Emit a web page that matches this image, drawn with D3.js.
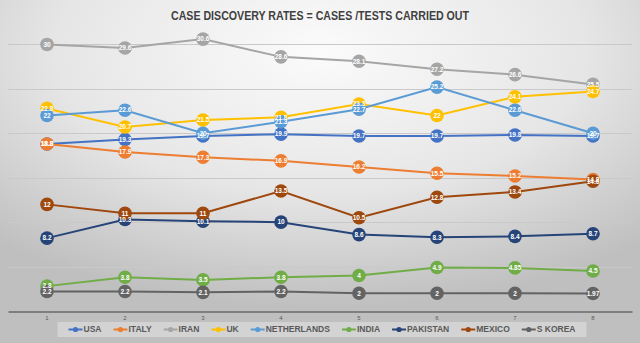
<!DOCTYPE html>
<html>
<head>
<meta charset="utf-8">
<script src="https://cdn.jsdelivr.net/npm/d3@7"></script>
<style>
  html, body { margin: 0; padding: 0; }
  body { width: 640px; height: 343px; overflow: hidden; }
  text { font-family: "Liberation Sans Narrow", "Liberation Sans", Arial, sans-serif; }
</style>
</head>
<body>
<div id="chart"></div>
<script>
const categories = ["1", "2", "3", "4", "5", "6", "7", "8"];
const seriesNames = ["USA", "ITALY", "IRAN", "UK", "NETHERLANDS", "INDIA", "PAKISTAN", "MEXICO", "S KOREA"];
const seriesColors = ["#4472C4", "#ED7D31", "#A5A5A5", "#FFC000", "#5B9BD5", "#70AD47", "#264478", "#9E480E", "#636363"];

const usa = [18.8, 19.3, 19.7, 19.9, 19.7, 19.7, 19.8, 19.7];
const italy = [18.8, 17.9, 17.3, 16.9, 16.2, 15.5, 15.2, 14.8];
const iran = [30, 29.6, 30.6, 28.6, 28.1, 27.2, 26.6, 25.5];
const uk = [22.8, 20.7, 21.5, 21.8, 23.3, 22, 24.1, 24.7];
const netherlands = [22, 22.6, 20, 21.3, 22.7, 25.2, 22.6, 20];
const india = [2.8, 3.8, 3.5, 3.8, 4, 4.9, 4.85, 4.5];
const pakistan = [8.2, 10.3, 10.1, 10, 8.6, 8.3, 8.4, 8.7];
const mexico = [12, 11, 11, 13.5, 10.5, 12.8, 13.4, 14.6];
const sKorea = [2.2, 2.2, 2.1, 2.2, 2, 2, 2, 1.97];

const yTicks = [5, 10, 15, 20, 25, 30];
const title = "CASE DISCOVERY RATES = CASES /TESTS CARRIED OUT";

const allValues = [usa, italy, iran, uk, netherlands, india, pakistan, mexico, sKorea];
const series = seriesNames.map((name, i) => ({ name, color: seriesColors[i], values: allValues[i] }));

const width = 640, height = 343;
const margin = { top: 0, right: 8, bottom: 32, left: 8 };

const svg = d3.select("#chart").append("svg")
  .attr("width", width)
  .attr("height", height);

// background gradient
const defs = svg.append("defs");
const grad = defs.append("radialGradient")
  .attr("id", "bg")
  .attr("cx", "50%").attr("cy", "15%").attr("r", "75%");
grad.append("stop").attr("offset", "0%").attr("stop-color", "#fbfbfb");
grad.append("stop").attr("offset", "55%").attr("stop-color", "#e6e6e6");
grad.append("stop").attr("offset", "100%").attr("stop-color", "#bfbfbf");

svg.append("rect")
  .attr("width", width).attr("height", height)
  .attr("fill", "url(#bg)");

const x = d3.scaleBand()
  .domain(categories)
  .range([margin.left, width - margin.right]);

const y = d3.scaleLinear()
  .domain([0, 35])
  .range([height - margin.bottom, margin.top]);

const cx = c => x(c) + x.bandwidth() / 2;

// gridlines
svg.append("g")
  .selectAll("line")
  .data(yTicks)
  .join("line")
  .attr("x1", margin.left)
  .attr("x2", width - margin.right)
  .attr("y1", d => Math.round(y(d)) + 0.5)
  .attr("y2", d => Math.round(y(d)) + 0.5)
  .attr("stroke", "#c9c9c9")
  .attr("stroke-width", 1);

// x axis
const xAxis = svg.append("g")
  .attr("transform", `translate(0, ${Math.round(y(0)) + 0.5})`)
  .call(d3.axisBottom(x).tickSize(0).tickPadding(4));
xAxis.select(".domain").attr("stroke", "#404040").attr("stroke-width", 1.2);
xAxis.selectAll("text")
  .attr("fill", "#595959")
  .style("font-size", "6px");

// title
svg.append("text")
  .attr("x", width / 2)
  .attr("y", 20)
  .attr("text-anchor", "middle")
  .attr("fill", "#404040")
  .attr("font-weight", "bold")
  .style("font-size", "12.5px")
  .attr("textLength", 298)
  .attr("lengthAdjust", "spacingAndGlyphs")
  .text(title);

const line = d3.line()
  .x((d, i) => cx(categories[i]))
  .y(d => y(d));

// lines and markers
const sg = svg.append("g")
  .selectAll("g")
  .data(series)
  .join("g");

sg.append("path")
  .attr("d", d => line(d.values))
  .attr("fill", "none")
  .attr("stroke", d => d.color)
  .attr("stroke-width", 2);

sg.selectAll("circle")
  .data(d => d.values.map((v, i) => ({ v, i, color: d.color })))
  .join("circle")
  .attr("cx", d => cx(categories[d.i]))
  .attr("cy", d => y(d.v))
  .attr("r", 6.8)
  .attr("fill", d => d.color);

// data labels on top
svg.append("g")
  .selectAll("g")
  .data(series)
  .join("g")
  .selectAll("text")
  .data(d => d.values.map((v, i) => ({ v, i })))
  .join("text")
  .attr("x", d => cx(categories[d.i]))
  .attr("y", d => y(d.v))
  .attr("dy", "0.35em")
  .attr("text-anchor", "middle")
  .attr("fill", "#ffffff")
  .attr("font-weight", "bold")
  .style("font-size", "6.5px")
  .text(d => d.v);

// legend
const legend = svg.append("g");
const legendBg = legend.append("rect")
  .attr("fill", "#d6d6d6")
  .attr("opacity", 0.85);

let lx = 0;
const items = legend.selectAll("g.item")
  .data(series)
  .join("g")
  .attr("class", "item");

items.each(function (d) {
  const g = d3.select(this);
  g.append("line")
    .attr("x1", 0).attr("x2", 14)
    .attr("y1", 0).attr("y2", 0)
    .attr("stroke", d.color).attr("stroke-width", 2);
  g.append("circle")
    .attr("cx", 7).attr("cy", 0).attr("r", 2.6)
    .attr("fill", d.color);
  const t = g.append("text")
    .attr("x", 15)
    .attr("dy", "0.35em")
    .attr("fill", "#595959")
    .attr("font-weight", "bold")
    .style("font-size", "8.5px")
    .text(d.name);
  g.attr("transform", `translate(${lx}, 0)`);
  lx += 15 + t.node().getComputedTextLength() + 12;
});

const legendW = lx - 12;
const legendX = 68 + (508 - legendW) / 2;
legend.attr("transform", `translate(${legendX}, 329.5)`);
legendBg
  .attr("x", -11).attr("y", -7.5)
  .attr("width", legendW + 22).attr("height", 15);
</script>
</body>
</html>
